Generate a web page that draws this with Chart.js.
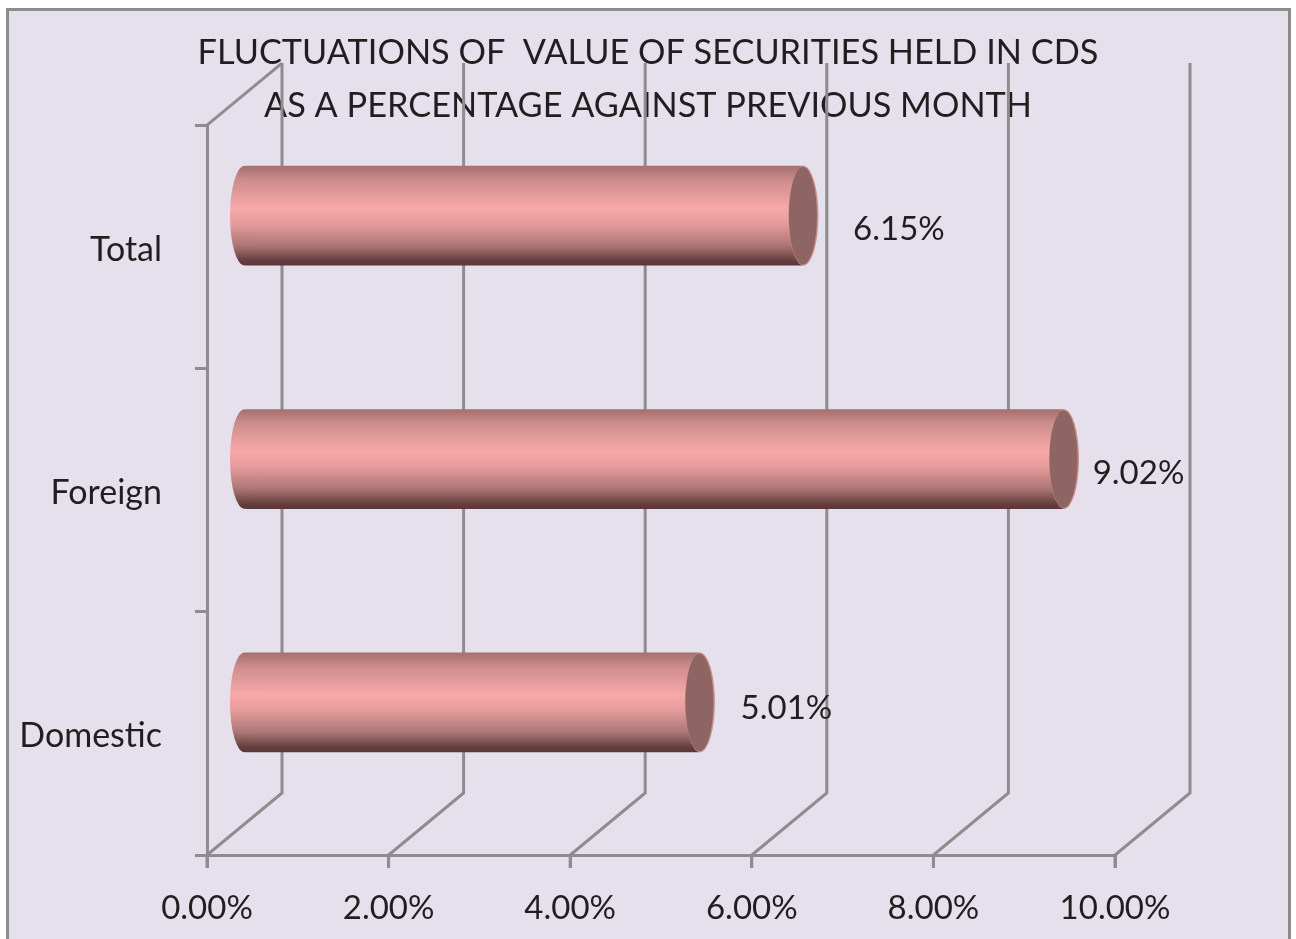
<!DOCTYPE html>
<html>
<head>
<meta charset="utf-8">
<title>Fluctuations of value of securities held in CDS</title>
<script src="https://cdn.jsdelivr.net/npm/chart.js@4"></script>
<style>
  html, body { margin: 0; padding: 0; background: #fff; overflow: hidden; }
  #frame { position: absolute; left: 6px; top: 8px; width: 1279px; height: 960px; background: #E5E0EC; border: 3px solid #8C8C8C; }
  #envChart { position: absolute; left: 0; top: 0; }
  #page { position: relative; width: 1296px; height: 939px; overflow: hidden; }
</style>
</head>
<body>
<div id="page">
  <div id="frame"></div>
  <canvas id="envChart" width="1296" height="939"></canvas>
</div>
<script>
const titleLines = ['FLUCTUATIONS OF  VALUE OF SECURITIES HELD IN CDS', 'AS A PERCENTAGE AGAINST PREVIOUS MONTH'];
const categories = ['Total', 'Foreign', 'Domestic'];
const values = [6.15, 9.02, 5.01];
const tickLabelDigits = 2;

// fake 3d depth of the walls, bars sit half way in
const depthX = 75;
const depthY = -62;
// hand placed value labels, offset from end of bar
const labelShift = [[96, 14], [75, 14], [87, 6]];

const lineColor = '#8D8D8D';
const textColor = '#1F1F1F';
const fontName = 'Lato';
const tickLen = 13;

function barGradient(c, top, bottom) {
    const g = c.createLinearGradient(0, top, 0, bottom);
    g.addColorStop(0, '#A56E6E');
    g.addColorStop(0.14, '#CC8C8C');
    g.addColorStop(0.42, '#F7A9A8');
    g.addColorStop(0.58, '#E69C9B');
    g.addColorStop(0.8, '#AB7675');
    g.addColorStop(0.95, '#653E3E');
    g.addColorStop(1, '#5A3636');
    return g;
}

const wallsPlugin = {
    id: 'walls',
    beforeDatasetsDraw(chart) {
        const c = chart.ctx;
        const x = chart.scales.x;
        const area = chart.chartArea;
        c.save();
        c.strokeStyle = lineColor;
        c.lineWidth = 3;
        x.ticks.forEach(t => {
            const px = x.getPixelForValue(t.value);
            c.beginPath();
            c.moveTo(px, area.bottom + tickLen);
            c.lineTo(px, area.bottom);
            c.lineTo(px + depthX, area.bottom + depthY);
            c.lineTo(px + depthX, area.top + depthY);
            c.stroke();
        });
        c.beginPath();
        c.moveTo(area.left, area.top);
        c.lineTo(area.left + depthX, area.top + depthY);
        c.stroke();
        c.restore();

        // bars are drawn half way into the depth
        c.save();
        c.translate(depthX / 2, depthY / 2);
    },
    afterDatasetsDraw(chart) {
        const c = chart.ctx;
        const meta = chart.getDatasetMeta(0);
        const base = chart.scales.x.getPixelForValue(0);
        meta.data.forEach(bar => {
            const r = bar.height / 2;
            const rx = 14.5;
            // round left end, whole ellipse so there is no seam with the bar
            c.fillStyle = barGradient(c, bar.y - r, bar.y + r);
            c.beginPath();
            c.ellipse(base, bar.y, rx, r, 0, 0, Math.PI * 2);
            c.fill();
            // right end, pink rim then flat cap
            c.fillStyle = '#C98B8A';
            c.beginPath();
            c.ellipse(bar.x + 0.5, bar.y, rx + 0.5, r, 0, 0, Math.PI * 2);
            c.fill();
            c.fillStyle = '#8F6564';
            c.beginPath();
            c.ellipse(bar.x, bar.y, rx - 0.5, r - 1, 0, 0, Math.PI * 2);
            c.fill();
        });
        c.restore();

        c.save();
        c.fillStyle = textColor;
        c.font = '33px ' + fontName;
        c.textAlign = 'center';
        c.textBaseline = 'middle';
        meta.data.forEach((bar, i) => {
            const lx = bar.x + depthX / 2 + labelShift[i][0];
            const ly = bar.y + depthY / 2 + labelShift[i][1];
            c.fillText(values[i].toFixed(2) + '%', lx, ly);
        });
        c.restore();
    }
};

Chart.defaults.font.family = fontName;
Chart.defaults.color = textColor;

new Chart(document.getElementById('envChart').getContext('2d'), {
    type: 'bar',
    plugins: [wallsPlugin],
    data: {
        labels: categories,
        datasets: [{
            data: values,
            barPercentage: 0.41,
            categoryPercentage: 1,
            borderWidth: 0,
            backgroundColor(ctx) {
                const chart = ctx.chart;
                const y = chart.scales.y;
                if (!y || ctx.dataIndex === undefined) return '#F7A9A8';
                const cy = y.getPixelForValue(ctx.dataIndex);
                if (!Number.isFinite(cy)) return '#F7A9A8';
                return barGradient(chart.ctx, cy - 50, cy + 50);
            }
        }]
    },
    options: {
        indexAxis: 'y',
        responsive: false,
        animation: false,
        layout: { padding: { top: 26.5, right: 0, left: 0, bottom: 0 } },
        plugins: {
            legend: { display: false },
            tooltip: { enabled: false },
            title: {
                display: true,
                text: titleLines,
                color: textColor,
                font: { size: 34.3, weight: 'normal', lineHeight: 1.546 },
                padding: { top: 0, bottom: -7.5 }
            }
        },
        scales: {
            x: {
                min: 0,
                max: 10,
                afterFit(s) { s.height = 84; },
                border: { color: lineColor, width: 3 },
                grid: { drawOnChartArea: false, color: lineColor, lineWidth: 3, tickLength: tickLen },
                ticks: {
                    stepSize: 2,
                    padding: 21,
                    maxRotation: 0,
                    font: { size: 33 },
                    callback: v => v.toFixed(tickLabelDigits) + '%'
                }
            },
            y: {
                afterFit(s) { s.width = 207; },
                border: { color: lineColor, width: 3 },
                grid: { drawOnChartArea: false, color: lineColor, lineWidth: 3, tickLength: 12 },
                ticks: { padding: 33, labelOffset: 3, font: { size: 34 } }
            },
            // empty axis keeps the plot off the right side, title stays centred on the page
            spacer: {
                axis: 'y',
                type: 'linear',
                position: 'right',
                afterFit(s) { s.width = 181; },
                border: { display: false },
                grid: { display: false },
                ticks: { display: false }
            }
        }
    }
});
</script>
</body>
</html>
